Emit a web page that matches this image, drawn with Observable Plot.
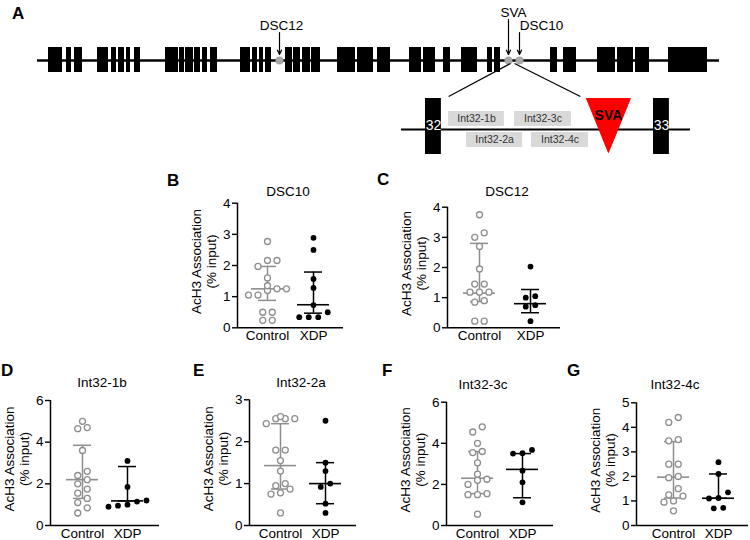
<!DOCTYPE html>
<html><head><meta charset="utf-8">
<script src="https://cdn.jsdelivr.net/npm/d3@7"></script>
<script src="https://cdn.jsdelivr.net/npm/@observablehq/plot@0.6"></script>
<style>
body{margin:0;background:#fff;}
#fig{position:relative;width:750px;height:540px;overflow:hidden;background:#fff;font-family:Arial,"Liberation Sans",Helvetica,sans-serif;color:#000;}
.lbl{position:absolute;line-height:1;white-space:nowrap;}
.letter{font-weight:bold;font-size:17px;}
.ptitle{font-size:13.5px;transform:translateX(-50%);}
</style></head><body><div id="fig"></div>
<script>
// ---------------- DATA ----------------
const groups = ["Control", "XDP"];
const panelIds = ["B", "C", "D", "E", "F", "G"];
const panelTitles = ["DSC10", "DSC12", "Int32-1b", "Int32-2a", "Int32-3c", "Int32-4c"];
const yMaxes = [4, 4, 6, 3, 6, 5];
const yTickSteps = [1, 1, 2, 1, 2, 1];
const yTitle = "AcH3 Association\n(% input)";

const controlB = [2.77, 2.16, 2.16, 1.97, 1.6, 1.35, 1.25, 1.25, 1.2, 1.05, 1.05, 0.5, 0.5, 0.24, 0.24];
const xdpB = [2.89, 2.5, 1.57, 1.28, 0.73, 0.5, 0.34, 0.34, 0.34];
const controlC = [3.75, 3.15, 3.0, 2.7, 1.95, 1.45, 1.45, 1.18, 1.18, 1.18, 0.9, 0.85, 0.22, 0.22];
const xdpC = [2.03, 1.05, 1.0, 0.75, 0.7, 0.22];
const controlD = [5.0, 4.7, 4.65, 3.6, 2.6, 2.4, 2.2, 2.0, 1.75, 1.55, 1.3, 1.1, 0.85, 0.6];
const xdpD = [3.1, 1.85, 1.2, 1.15, 1.0, 0.95, 0.9];
const controlE = [2.6, 2.55, 2.55, 2.55, 2.43, 1.8, 1.8, 1.55, 1.3, 1.0, 0.95, 0.87, 0.78, 0.75, 0.3];
const xdpE = [2.5, 1.5, 1.3, 1.0, 0.92, 0.52, 0.3];
const controlF = [4.8, 4.55, 4.0, 3.6, 3.55, 3.05, 2.5, 2.25, 2.2, 2.0, 1.55, 1.5, 1.5, 0.55];
const xdpF = [3.68, 3.52, 3.5, 2.67, 2.1, 1.13];
const controlG = [4.4, 4.2, 3.5, 3.45, 2.5, 2.5, 2.0, 1.95, 1.5, 1.25, 1.2, 1.0, 0.95, 0.6];
const xdpG = [2.58, 2.1, 1.35, 1.12, 1.1, 0.72, 0.7];

// median and interquartile range (B..G)
const controlMedian = [1.25, 1.15, 2.2, 1.43, 2.3, 1.97];
const controlQ1 = [0.88, 0.87, 1.3, 0.87, 1.55, 1.12];
const controlQ3 = [1.97, 2.8, 3.85, 2.43, 3.6, 3.42];
const xdpMedian = [0.74, 0.8, 1.18, 1.0, 2.73, 1.11];
const xdpQ1 = [0.47, 0.5, 1.18, 0.52, 1.35, 1.11];
const xdpQ3 = [1.79, 1.27, 2.83, 1.5, 3.5, 2.1];

// gene map (panel A), positions in map units along the gene
const geneLength = 682;
const exonStart = [11, 29, 37, 60, 74, 81, 89, 97, 128, 142, 148, 157, 165, 173, 203, 215, 222, 228, 248, 256, 265, 274, 300, 320, 340, 372, 386, 406, 424, 450, 457, 513, 526, 560, 580, 598, 631];
const exonEnd   = [25, 34, 45, 71, 79, 87, 93, 103, 141, 147, 156, 163, 170, 180, 213, 220, 226, 234, 255, 263, 273, 283, 318, 336, 353, 384, 398, 413, 440, 455, 463, 520, 539, 578, 596, 612, 670];
const markerNames = ["DSC12", "SVA", "DSC10"];
const markerPos = [242, 471, 482];
const markerLabelPos = [244, 476, 504];
const markerLabelRow = [25.5, 12, 25.5];
const markerArrowTop = [32, 19, 32];

// intron 32 inset, positions in % of intron drawing
const insetExonNames = ["32", "33"];
const insetExonStart = [8.3, 87.2];
const insetExonEnd = [13.8, 92.7];
const primerNames = ["Int32-1b", "Int32-2a", "Int32-3c", "Int32-4c"];
const primerStart = [16.3, 22.5, 39.1, 45.0];
const primerEnd = [35.6, 41.9, 58.8, 64.7];
const primerRow = [0, 1, 0, 1];
const svaInsert = {name: "SVA", start: 64.0, end: 79.2};

// ---------------- LAYOUT ----------------
const FONT = "Arial, 'Liberation Sans', Helvetica, sans-serif";
const GRAY = "#8e8e8e";
const fig = document.getElementById("fig");
function place(node, left, top) {
  node.style.position = "absolute"; node.style.left = left + "px"; node.style.top = top + "px";
  fig.appendChild(node);
}
function label(text, left, top, cls) {
  const d = document.createElement("div");
  d.className = "lbl " + cls; d.textContent = text;
  d.style.left = left + "px"; d.style.top = top + "px";
  fig.appendChild(d);
}
const baseStyle = {fontFamily: FONT, fontSize: "13.5px", background: "transparent", overflow: "visible", color: "#000"};

// ---- Panel A: gene ----
const exons = exonStart.map((s, i) => ({s, e: exonEnd[i]}));
const markers = markerNames.map((n, i) => ({n, p: markerPos[i], lp: markerLabelPos[i], ly: markerLabelRow[i], at: markerArrowTop[i]}));
const geneRow = {line: 60, top: 47, bottom: 72, tip: 54};
const geneChart = Plot.plot({
  width: 750, height: 80, margin: 0,
  x: {domain: [0, geneLength], range: [37, 719], axis: null},
  y: {domain: [0, 80], range: [0, 80], axis: null},
  style: baseStyle,
  marks: [
    Plot.ruleY([geneRow.line], {x1: () => 0, x2: () => geneLength, strokeWidth: 2.6}),
    Plot.rect(exons, {x1: "s", x2: "e", y1: () => geneRow.top, y2: () => geneRow.bottom, fill: "#000"}),
    Plot.dot(markers, {x: "p", y: () => geneRow.line, r: 4, fill: "#a8a8a8"}),
    Plot.arrow(markers, {x1: "p", x2: "p", y1: "at", y2: () => geneRow.tip, strokeWidth: 1.2, headLength: 6, headAngle: 50}),
    Plot.text(markers, {x: "lp", y: "ly", text: "n", fontSize: 13.5})
  ]
});
place(geneChart, 0, 0);

// ---- Panel A: inset ----
const iy = {line: 74, exTop: 43, exBot: 99, row: [[56, 71], [77, 92]], focus: 8, fan: 41, triTop: 43, triTip: 97};
const insetExons = insetExonNames.map((n, i) => ({n, s: insetExonStart[i], e: insetExonEnd[i]}));
const primers = primerNames.map((n, i) => ({n, s: primerStart[i], e: primerEnd[i], r: primerRow[i]}));
const tri = [
  {x: svaInsert.start, y: iy.triTop}, {x: svaInsert.end, y: iy.triTop},
  {x: (svaInsert.start + svaInsert.end) / 2, y: iy.triTip}, {x: svaInsert.start, y: iy.triTop}
];
const fan = [{x1: 37.7, x2: primerStart[0]}, {x1: 39.1, x2: 61.9}];
const insetChart = Plot.plot({
  width: 330, height: 110, margin: 0,
  x: {domain: [0, 100], range: [21, 310], axis: null},
  y: {domain: [0, 110], range: [0, 110], axis: null},
  style: baseStyle,
  marks: [
    Plot.link(fan, {x1: "x1", x2: "x2", y1: () => iy.focus, y2: () => iy.fan, strokeWidth: 1.2}),
    Plot.ruleY([iy.line], {x1: () => 0, x2: () => 100, strokeWidth: 2.2}),
    Plot.rect(insetExons, {x1: "s", x2: "e", y1: () => iy.exTop, y2: () => iy.exBot, fill: "#000"}),
    Plot.text(insetExons, {x: d => (d.s + d.e) / 2, y: () => iy.line - 4, text: "n", fill: "#fff", fontSize: 14}),
    Plot.rect(primers, {x1: "s", x2: "e", y1: d => iy.row[d.r][0], y2: d => iy.row[d.r][1], fill: "#d9d9d9"}),
    Plot.text(primers, {x: d => (d.s + d.e) / 2, y: d => (iy.row[d.r][0] + iy.row[d.r][1]) / 2, text: "n", fontSize: 10.5, fill: "#333"}),
    Plot.line(tri, {x: "x", y: "y", fill: "#ff0000", stroke: "#ff0000", strokeWidth: 1}),
    Plot.text([svaInsert], {x: d => (d.start + d.end) / 2, y: () => 60, text: "name", fontSize: 14, fontWeight: "bold"})
  ]
});
place(insetChart, 380, 55);
label("A", 12, 5, "letter");

// ---- Scatter panels B..G ----
const controls = [controlB, controlC, controlD, controlE, controlF, controlG];
const xdps = [xdpB, xdpC, xdpD, xdpE, xdpF, xdpG];
const geos = [
  {left: 150, top: 170, w: 205, h: 180, axisX: 237, xEnd: 343, yTop: 202.7, y0: 327.3, c1: 267, c2: 313, lx: 167, ly: 172, tx: 288, ty: 184.5},
  {left: 360, top: 170, w: 210, h: 180, axisX: 447, xEnd: 560, yTop: 206.7, y0: 327.3, c1: 479, c2: 530, lx: 377, ly: 171, tx: 507, ty: 184.5},
  {left: 0, top: 360, w: 170, h: 180, axisX: 50, xEnd: 159, yTop: 400, y0: 525, c1: 82, c2: 127, lx: 1, ly: 362, tx: 102, ty: 376},
  {left: 185, top: 360, w: 180, h: 180, axisX: 249, xEnd: 356, yTop: 399.3, y0: 525, c1: 280, c2: 325, lx: 193, ly: 362, tx: 301, ty: 376},
  {left: 375, top: 360, w: 190, h: 180, axisX: 446, xEnd: 553, yTop: 401.7, y0: 525, c1: 477, c2: 522, lx: 382, ly: 362, tx: 483, ty: 377.5},
  {left: 560, top: 360, w: 190, h: 180, axisX: 636, xEnd: 748, yTop: 402.3, y0: 525, c1: 673, c2: 718, lx: 567, ly: 362, tx: 675, ty: 377.5}
];

function swarm(values, pxPerUnit, thresholdPx, stepPx) {
  const sorted = values.slice().sort((a, b) => a - b);
  const rows = [];
  for (const v of sorted) {
    const row = rows[rows.length - 1];
    if (row && (v - row[0]) * pxPerUnit < thresholdPx) row.push(v); else rows.push([v]);
  }
  const out = [];
  for (const row of rows) row.forEach((v, j) => out.push({v, off: (j - (row.length - 1) / 2) * stepPx}));
  return out;
}

panelIds.forEach((id, i) => {
  const g = geos[i];
  const ymax = yMaxes[i];
  const k = g.c2 - g.c1;
  const xa = 1 - (g.c1 - g.axisX) / k, xb = 2 + (g.xEnd - g.c2) / k;
  const pxY = (g.y0 - g.yTop) / ymax;
  const pts = [];
  [controls[i], xdps[i]].forEach((vals, gi) =>
    swarm(vals, pxY, 6.5, 9.5).forEach(d => pts.push({g: gi + 1, v: d.v, x: gi + 1 + d.off / k})));
  const stats = [
    {g: 1, med: controlMedian[i], q1: controlQ1[i], q3: controlQ3[i]},
    {g: 2, med: xdpMedian[i], q1: xdpQ1[i], q3: xdpQ3[i]}
  ];
  const caps = stats.flatMap(d => [{g: d.g, y: d.q1}, {g: d.g, y: d.q3}]);
  const barMarks = [];
  [GRAY, "#000"].forEach((c, gi) => {
    const s = stats.filter(d => d.g === gi + 1), cp = caps.filter(d => d.g === gi + 1);
    barMarks.push(
      Plot.ruleX(s, {x: "g", y1: "q1", y2: "q3", stroke: c, strokeWidth: 1.5}),
      Plot.ruleY(s, {y: "med", x1: d => d.g - 16 / k, x2: d => d.g + 16 / k, stroke: c, strokeWidth: 1.6}),
      Plot.ruleY(cp, {y: "y", x1: d => d.g - 9 / k, x2: d => d.g + 9 / k, stroke: c, strokeWidth: 1.5})
    );
  });
  const chart = Plot.plot({
    width: g.w, height: g.h,
    marginLeft: g.axisX - g.left, marginRight: g.left + g.w - g.xEnd,
    marginTop: g.yTop - g.top, marginBottom: g.top + g.h - g.y0,
    style: baseStyle,
    x: {domain: [xa, xb]},
    y: {domain: [0, ymax]},
    marks: [
      Plot.axisY({ticks: d3.range(0, ymax + 1e-9, yTickSteps[i]), tickFormat: d => String(d), tickSize: 5, tickPadding: 2, label: null, fontSize: 13.5, strokeWidth: 1.4}),
      Plot.axisX({ticks: [1, 2], tickFormat: d => groups[d - 1], tickSize: 0, tickPadding: 3, label: null, fontSize: 13.5}),
      Plot.text([yTitle], {text: d => d, frameAnchor: "left", textAnchor: "middle", lineAnchor: "middle", rotate: -90, dx: -34, dy: -4, fontSize: 13.5, lineHeight: 1.12}),
      ...barMarks,
      Plot.dot(pts.filter(d => d.g === 1), {x: "x", y: "v", r: 3, stroke: GRAY, fill: "#fff", strokeWidth: 1.3}),
      Plot.dot(pts.filter(d => d.g === 2), {x: "x", y: "v", r: 2.9, fill: "#000"}),
      Plot.ruleY([0], {strokeWidth: 1.5}),
      Plot.ruleX([xa], {strokeWidth: 1.5})
    ]
  });
  place(chart, g.left, g.top);
  label(id, g.lx, g.ly, "letter");
  label(panelTitles[i], g.tx, g.ty, "ptitle");
});
</script></body></html>
